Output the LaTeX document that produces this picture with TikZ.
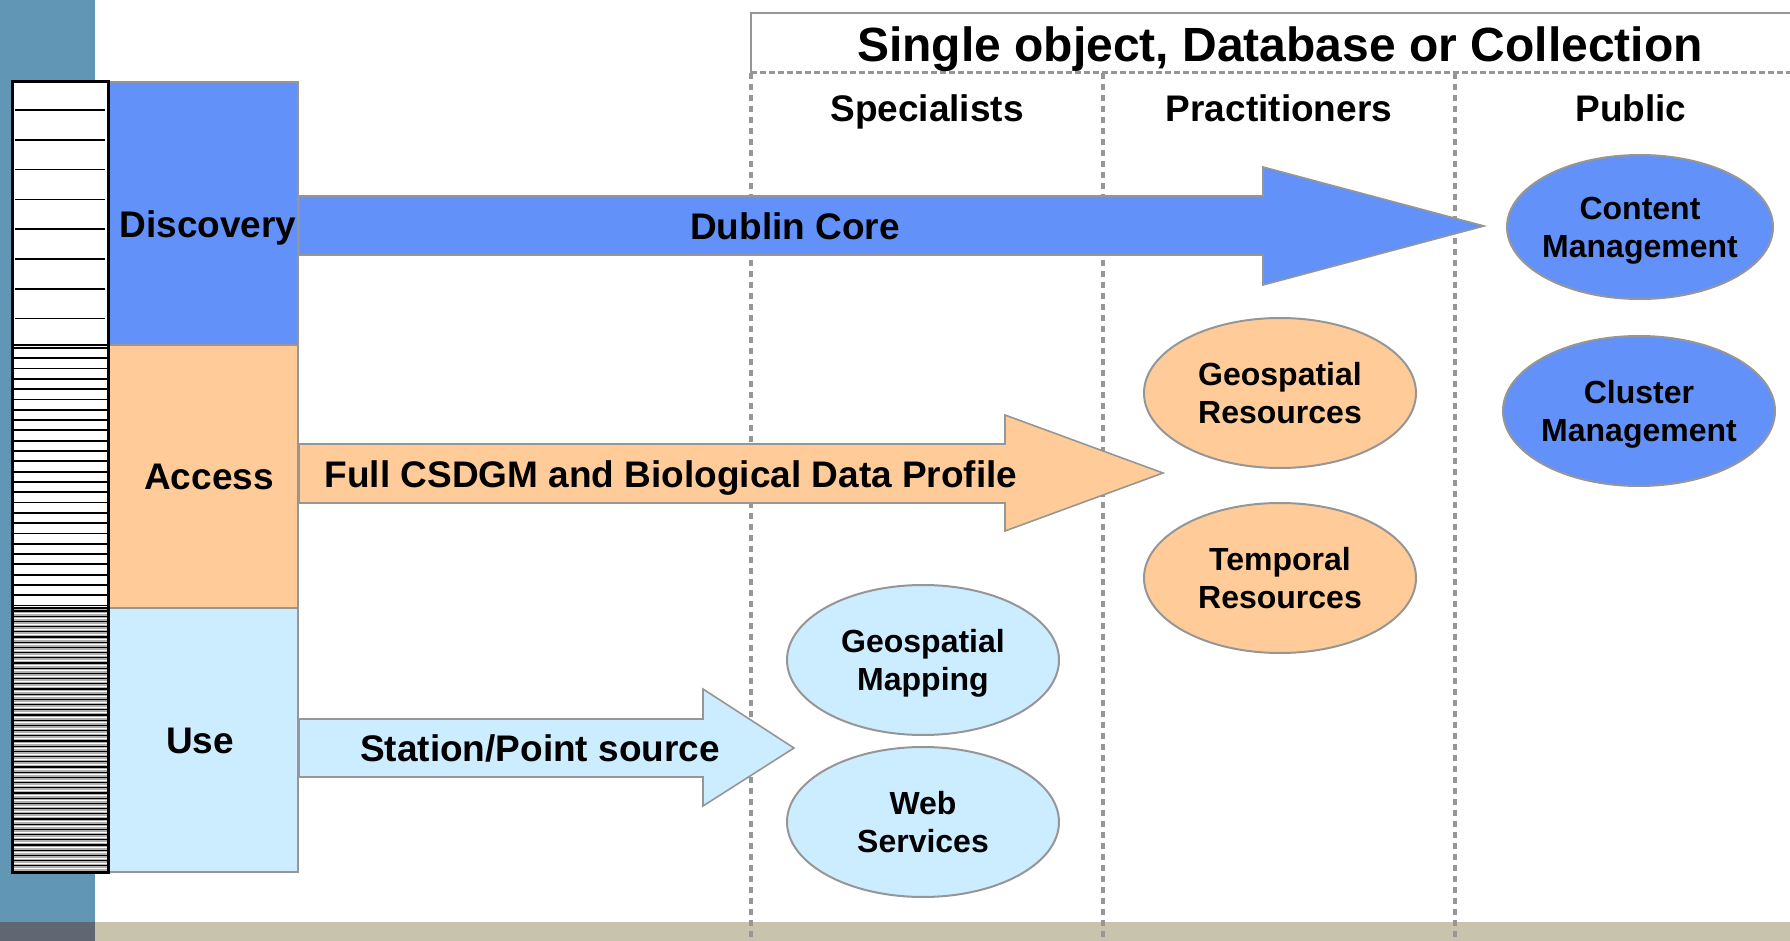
\documentclass[tikz,border=0pt]{standalone}
\usepackage{fontspec}
\setmainfont{Liberation Sans}
\usetikzlibrary{shapes.geometric}
\definecolor{stripblue}{RGB}{98,150,181}
\definecolor{bandtan}{RGB}{199,195,173}
\definecolor{banddark}{RGB}{96,103,115}
\definecolor{discblue}{RGB}{99,145,250}
\definecolor{accorange}{RGB}{255,204,153}
\definecolor{uselight}{RGB}{204,236,255}
\definecolor{edgegray}{RGB}{150,150,150}
\definecolor{stripegray}{RGB}{175,175,175}
\begin{document}
\begin{tikzpicture}[x=0.5pt,y=-0.5pt,
  greyline/.style={draw=edgegray,line width=0.8pt},
  colline/.style={edgegray,line width=2pt,dash pattern=on 3pt off 2.5pt},
  big/.style={font=\fontsize{18.5}{22}\selectfont\bfseries,text height=13.3pt,text depth=0pt,inner sep=0pt},
  oval/.style={ellipse,greyline,line width=1pt,minimum width=136pt,minimum height=75pt,inner sep=0pt},
  ovaltext/.style={align=center,font=\fontsize{16}{19}\selectfont\bfseries,text depth=0pt}]
\useasboundingbox (0,0) rectangle (1790,941);
\fill[stripblue] (0,0) rectangle (95,922);
\fill[banddark] (0,922) rectangle (95,941);
\fill[bandtan] (95,922) rectangle (1790,941);

\draw[edgegray,line width=1pt] (751,73) -- (751,13) -- (1790,13);
\draw[edgegray,line width=1.5pt,dash pattern=on 3pt off 1.5pt] (751,73) -- (1790,73);
\foreach \x in {751,1103,1455}
  \draw[colline] (\x,73) -- (\x,941);
\node[font=\fontsize{24}{28}\selectfont\bfseries,text height=17pt,text depth=0pt,inner sep=0pt]
  (title) at (1280,45) {Single object, Database or Collection};
\node[big] (specialists) at (927,108) {Specialists};
\node[big] (practitioners) at (1279,108) {Practitioners};
\node[big] (public) at (1631,108) {Public};

\draw[greyline,fill=discblue] (108,82) rectangle (298,345);
\draw[greyline,fill=accorange] (108,345) rectangle (298,608);
\draw[greyline,fill=uselight] (108,608) rectangle (298,872);
\fill[white] (12,82) rectangle (108,608);
\fill[stripegray] (12,608) rectangle (108,872);
\foreach \i in {0,...,7}
  \draw[line width=0.8pt] (15,{110+29.8*\i}) -- (105,{110+29.8*\i});
\foreach \i in {0,...,25}
  \draw[line width=0.9pt] (12,{348+10.3*\i}) -- (108,{348+10.3*\i});
\foreach \i in {0,...,49} {
  \draw[line width=0.6pt] (12,{611+5.2*\i}) -- (108,{611+5.2*\i});
  \draw[white,line width=0.4pt] (12,{613.6+5.2*\i}) -- (108,{613.6+5.2*\i});
}
\draw[line width=1.2pt] (12,345) -- (108,345) (12,608) -- (108,608);
\draw[line width=1.5pt] (12,82) rectangle (108,872);
\node[big] (discovery) at (208,224) {Discovery};
\node[big] (access) at (209,476) {Access};
\node[big] (use) at (200,740) {Use};

\draw[greyline,fill=discblue] (299,196) -- (1263,196) -- (1263,167) -- (1484,226)
  -- (1263,285) -- (1263,255) -- (299,255) -- cycle;
\draw[greyline,fill=accorange] (299,444) -- (1005,444) -- (1005,415) -- (1163,473)
  -- (1005,531) -- (1005,503) -- (299,503) -- cycle;
\draw[greyline,fill=uselight] (299,719) -- (703,719) -- (703,689) -- (794,748)
  -- (703,806) -- (703,777) -- (299,777) -- cycle;
\node[big] (dublin) at (795,226) {Dublin Core};
\node[big] (csdgm) at (671,474) {Full CSDGM and Biological Data Profile};
\node[big] (station) at (540,748) {Station/Point source};

\node[oval,fill=discblue,minimum width=133pt,minimum height=72pt,
  label={[ovaltext]center:Content\\Management}] (content) at (1640,227) {};
\node[oval,fill=discblue,label={[ovaltext]center:Cluster\\Management}] (cluster) at (1639,411) {};
\node[oval,fill=accorange,label={[ovaltext]center:Geospatial\\Resources}] (georesources) at (1280,393) {};
\node[oval,fill=accorange,label={[ovaltext]center:Temporal\\Resources}] (temporal) at (1280,578) {};
\node[oval,fill=uselight,label={[ovaltext]center:Geospatial\\Mapping}] (geomapping) at (923,660) {};
\node[oval,fill=uselight,label={[ovaltext]center:Web\\Services}] (webservices) at (923,822) {};
\end{tikzpicture}
\end{document}
